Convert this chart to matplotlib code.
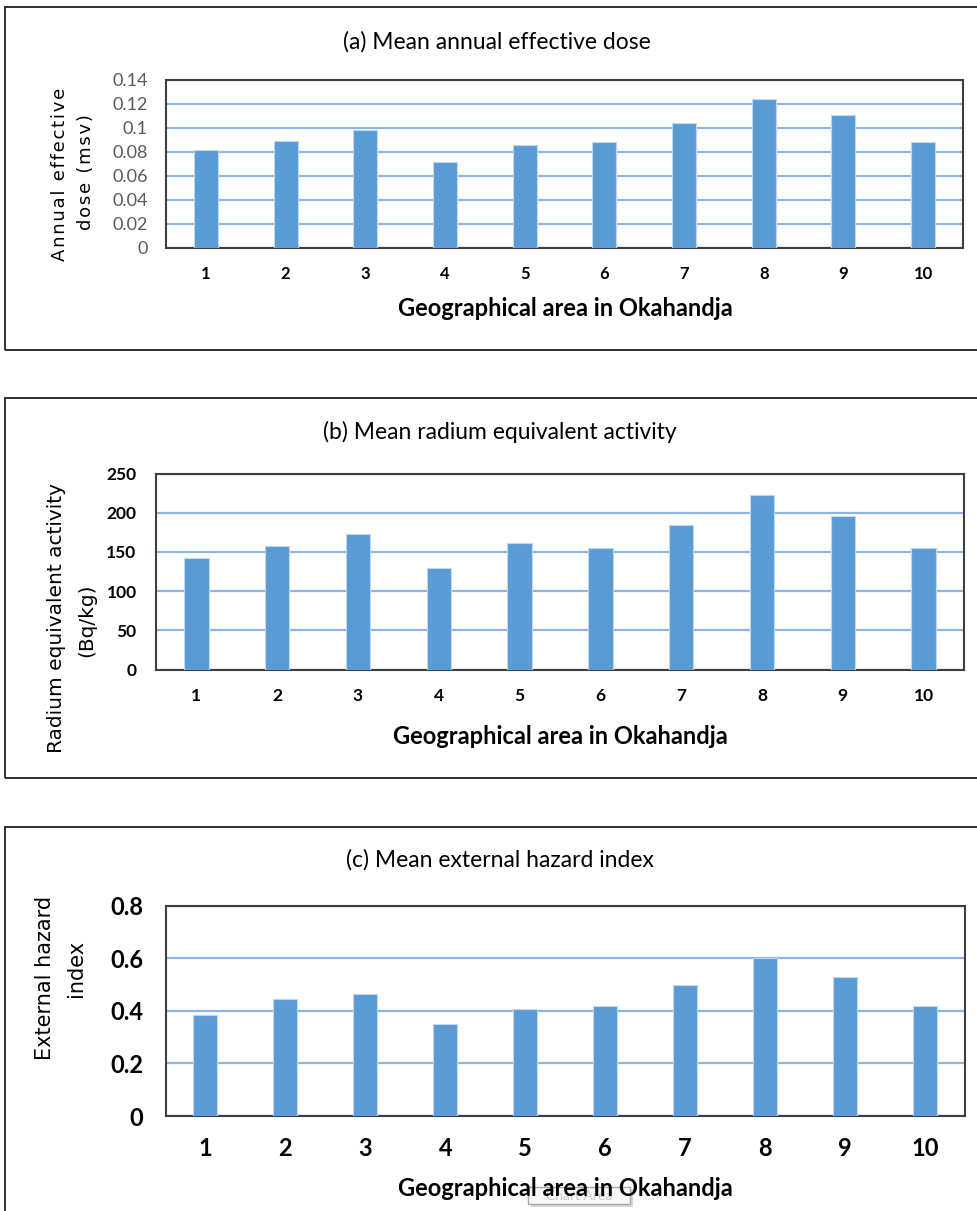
import matplotlib
matplotlib.use('Agg')
import matplotlib.pyplot as plt
from matplotlib.patches import Rectangle

# ---------------- data ----------------
areas = [1, 2, 3, 4, 5, 6, 7, 8, 9, 10]
dose = [0.082, 0.0895, 0.098, 0.072, 0.0855, 0.088, 0.1045, 0.1245, 0.1105, 0.088]
radium = [142, 157, 173, 129, 161, 155.5, 184, 223, 196, 155.5]
hazard = [0.385, 0.444, 0.465, 0.351, 0.408, 0.419, 0.499, 0.600, 0.527, 0.419]

dose_ticks = [0, 0.02, 0.04, 0.06, 0.08, 0.1, 0.12, 0.14]
dose_labels = ['0', '0.02', '0.04', '0.06', '0.08', '0.1', '0.12', '0.14']
radium_ticks = [0, 50, 100, 150, 200, 250]
hazard_ticks = [0, 0.2, 0.4, 0.6, 0.8]
hazard_labels = ['0', '0.2', '0.4', '0.6', '0.8']

titles = ['(a) Mean annual effective dose',
          '(b) Mean radium equivalent activity',
          '(c) Mean external hazard index']
xlab = 'Geographical area in Okahandja'

# ---------------- style ----------------
W, H = 978, 1211
bar_col = '#5B9BD5'
edge_col = '#BDD7EE'
grid_col = '#8DB6E2'
frame_col = '#3F3F3F'
calibri = 'Lato'   # Carlito/Calibri look-alike

fig = plt.figure(figsize=(W / 100, H / 100), dpi=100)


def fx(px):
    return px / W


def fy(py):
    return 1 - py / H


def make_axes(left, right, top, bottom):
    return fig.add_axes([fx(left), fy(bottom), fx(right - left), (bottom - top) / H])


def spaced(s):
    # mimic the stretched letter spacing of the Excel axis title
    return '\u200a'.join(s)


def style_axes(ax, values, ymax, yticks, ylabels, ycolor, ysize, yweight, ypad, xsize, xpad):
    ax.bar(areas, values, width=0.3, color=bar_col, edgecolor=edge_col, linewidth=0.8, zorder=3)
    ax.set_xlim(0.5, 10.5)
    ax.set_ylim(0, ymax)
    ax.set_yticks(yticks)
    ax.set_yticklabels(ylabels)
    ax.set_xticks(areas)
    ax.set_xticklabels([str(a) for a in areas])
    ax.yaxis.grid(True, color=grid_col, linewidth=1.6, zorder=0)
    ax.set_axisbelow(True)
    for sp in ax.spines.values():
        sp.set_color(frame_col)
        sp.set_linewidth(1.5)
    ax.tick_params(length=0)
    ax.tick_params(axis='y', pad=ypad)
    ax.tick_params(axis='x', pad=xpad)
    for t in ax.get_yticklabels():
        t.set_fontfamily(calibri)
        t.set_fontsize(ysize)
        t.set_fontweight(yweight)
        t.set_color(ycolor)
    for t in ax.get_xticklabels():
        t.set_fontfamily(calibri)
        t.set_fontsize(xsize)
        t.set_fontweight('bold')
        t.set_color('black')


# panel frames (the right/bottom edges run past the image edge)
for top, bottom in [(7, 350), (398, 778), (827, 1230)]:
    fig.patches.append(Rectangle((fx(5), fy(bottom)), fx(990 - 5), (bottom - top) / H,
                                 transform=fig.transFigure, fill=False,
                                 edgecolor='#202020', linewidth=1.3))

# ---- (a) ----
ax1 = make_axes(166, 963, 80, 248)
style_axes(ax1, dose, 0.14, dose_ticks, dose_labels, '#595959', 13, 'normal', 13, 12, 13)
fig.text(fx(497), fy(42), titles[0], ha='center', va='center', fontsize=16.5, family=calibri)
fig.text(fx(565), fy(308), xlab, ha='center', va='center', fontsize=17,
         fontweight='bold', family=calibri)
fig.text(fx(60), fy(174), spaced('Annual effective'), rotation=90, ha='center', va='center',
         fontsize=13, family='DejaVu Sans')
fig.text(fx(86), fy(172), spaced('dose (msv)'), rotation=90, ha='center', va='center',
         fontsize=13, family='DejaVu Sans')

# ---- (b) ----
ax2 = make_axes(156, 964, 473.5, 669.5)
style_axes(ax2, radium, 250, radium_ticks, [str(v) for v in radium_ticks], 'black', 12.5,
           'bold', 14, 12.5, 13)
fig.text(fx(500), fy(432), titles[1], ha='center', va='center', fontsize=16.5, family=calibri)
fig.text(fx(560), fy(736), xlab, ha='center', va='center', fontsize=17,
         fontweight='bold', family=calibri)
fig.text(fx(57), fy(618), 'Radium equivalent activity', rotation=90, ha='center', va='center',
         fontsize=14.5, family='DejaVu Sans')
fig.text(fx(87), fy(620), '(Bq/kg)', rotation=90, ha='center', va='center',
         fontsize=14.5, family='DejaVu Sans')

# ---- (c) ----
ax3 = make_axes(165.5, 965, 905.5, 1116)
style_axes(ax3, hazard, 0.8, hazard_ticks, hazard_labels, 'black', 17, 'bold', 16, 17, 15)
fig.text(fx(500), fy(860), titles[2], ha='center', va='center', fontsize=16.5, family=calibri)
fig.text(fx(565), fy(1189), xlab, ha='center', va='center', fontsize=17,
         fontweight='bold', family=calibri, zorder=5)
fig.text(fx(45), fy(978), 'External hazard', rotation=90, ha='center', va='center',
         fontsize=15, family='DejaVu Sans')
fig.text(fx(76), fy(968), 'index', rotation=90, ha='center', va='center',
         fontsize=15, family='DejaVu Sans')

# "Chart Area" tooltip left over in the screenshot
fig.patches.append(Rectangle((fx(531), fy(1207)), fx(102), 18 / H,
                             transform=fig.transFigure, facecolor='#D8D8D8',
                             edgecolor='none', zorder=1))
fig.patches.append(Rectangle((fx(528), fy(1204)), fx(102), 17 / H,
                             transform=fig.transFigure, facecolor='#F8F8F8',
                             edgecolor='#A8A8A8', linewidth=1, zorder=1))
fig.text(fx(579), fy(1196), 'Chart Area', ha='center', va='center', fontsize=10,
         color='#C8C8C8', family=calibri, zorder=2)

fig.savefig('out.png', dpi=100)
